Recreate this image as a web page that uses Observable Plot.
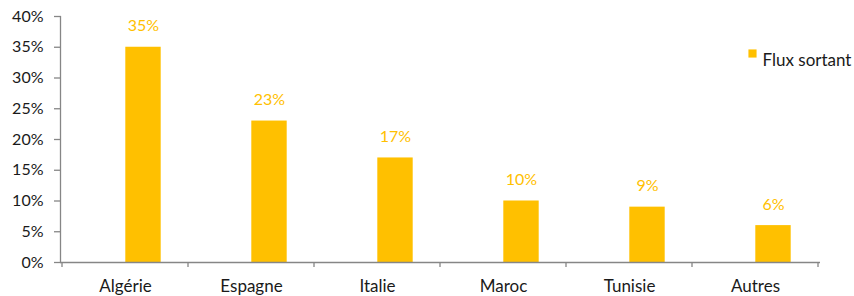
<!DOCTYPE html>
<html>
<head>
<meta charset="utf-8">
<script src="https://cdn.jsdelivr.net/npm/d3@7"></script>
<script src="https://cdn.jsdelivr.net/npm/@observablehq/plot@0.6"></script>
<style>
  html, body { margin: 0; padding: 0; background: #fff; }
  #chart { width: 854px; height: 296px; }
  svg { font-family: "Lato", "Open Sans", sans-serif; }
</style>
</head>
<body>
<div id="chart"></div>
<script>
const categories = ["Algérie", "Espagne", "Italie", "Maroc", "Tunisie", "Autres"];
const fluxSortant = [0.35, 0.23, 0.17, 0.10, 0.09, 0.06];
const seriesName = "Flux sortant";
const yTickValues = [0, 0.05, 0.10, 0.15, 0.20, 0.25, 0.30, 0.35, 0.40];

const data = categories.map((c, i) => ({ pays: c, valeur: fluxSortant[i] }));
const barColor = "#FFC000";
const axisColor = "#868686";
const pct = d3.format(".0%");

const boundaryTicks = (index, scales, values, dims) => {
  const g = d3.create("svg:g").attr("stroke", axisColor).attr("stroke-width", 1.3);
  const x = scales.x, bw = x.bandwidth();
  const y0 = scales.y(0);
  const xs = categories.map(c => x(c)).concat([x(categories[categories.length - 1]) + bw]);
  for (const px of xs) {
    g.append("line").attr("x1", px).attr("x2", px).attr("y1", y0).attr("y2", y0 + 5);
  }
  return g.node();
};

const chart = Plot.plot({
  width: 854,
  height: 296,
  marginLeft: 60,
  marginRight: 34,
  marginTop: 16,
  marginBottom: 34,
  style: { fontFamily: "Lato, 'Open Sans', sans-serif", fontSize: "16px", color: "#1a1a1a" },
  x: { domain: categories, padding: 0, label: null },
  y: { domain: [0, 0.4], label: null },
  marks: [
    Plot.barY(data, { x: "pays", y: "valeur", fill: barColor, insetLeft: 63.3, insetRight: 27.3 }),
    Plot.text(data, { x: "pays", y: "valeur", text: d => pct(d.valeur), fill: barColor, dx: 18, dy: -21, fontSize: 16 }),
    Plot.axisY({ ticks: yTickValues, tickFormat: pct, tickSize: 6, tickPadding: 11, stroke: axisColor, fill: "#1a1a1a", fontSize: 16, strokeWidth: 1.3, label: null }),
    Plot.axisX({ tickSize: 0, tickPadding: 17, fontSize: 17, fill: "#1a1a1a", label: null }),
    Plot.frame({ anchor: "left", stroke: axisColor, strokeWidth: 1.3 }),
    Plot.ruleY([0], { stroke: axisColor, strokeWidth: 1.3 }),
    boundaryTicks,
    Plot.dot([seriesName], { frameAnchor: "top-right", symbol: "square", r: 4.6, fill: barColor, stroke: null, dx: -68, dy: 37 }),
    Plot.text([seriesName], { frameAnchor: "top-right", text: d => d, textAnchor: "start", fill: "#1a1a1a", fontSize: 17, dx: -58, dy: 37 })
  ]
});
document.getElementById("chart").append(chart);
</script>
</body>
</html>
